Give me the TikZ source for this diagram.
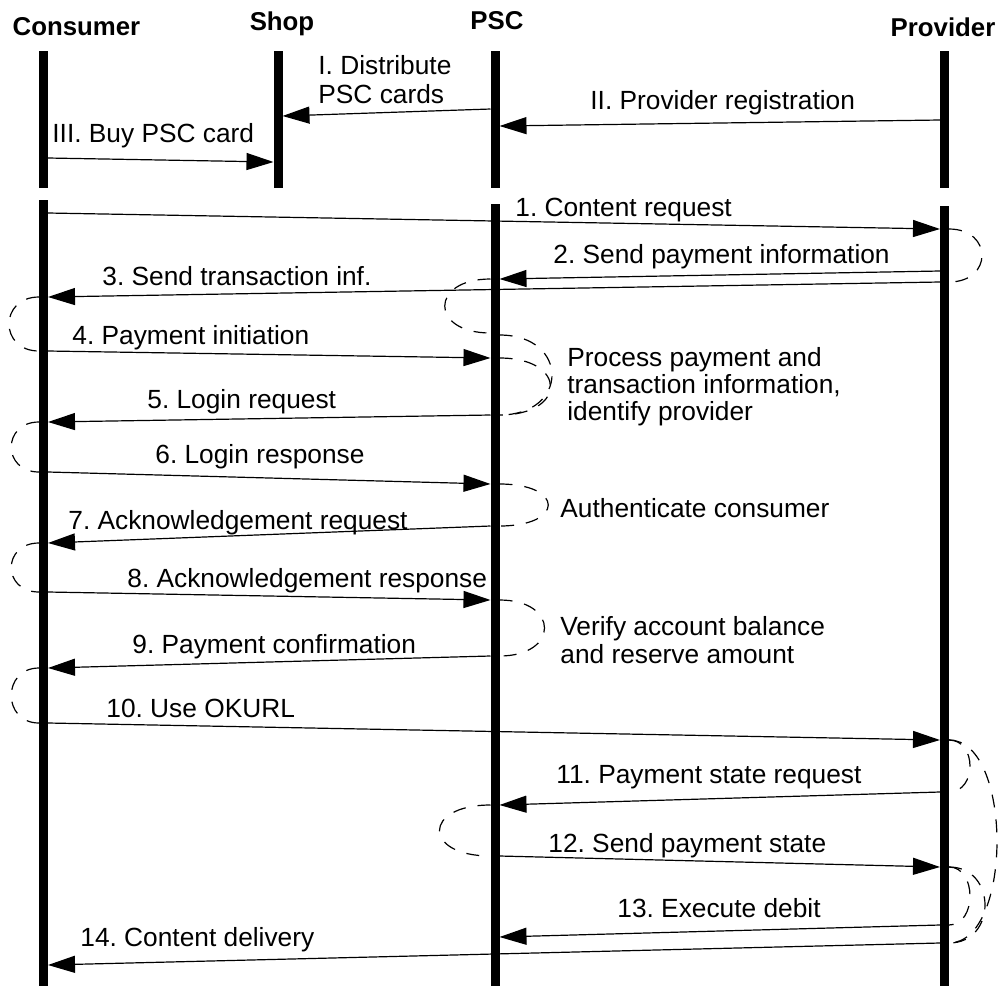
\documentclass[tikz,border=0pt]{standalone}
\usepackage{fontspec}
\setmainfont{Liberation Sans}
\usetikzlibrary{arrows.meta}
\frenchspacing

\begin{document}
\begin{tikzpicture}[x=0.5pt, y=-0.5pt]
			\tikzset{vie/.style={line width=4.5pt}, fleche/.style={-{Triangle[length=13.5pt, width=8.5pt]}, line width=0.6pt}, activite/.style={dash pattern=on 6.5pt off 6pt, line width=0.6pt}, titre/.style={font=\fontsize{12.9}{15}\selectfont\bfseries, inner sep=0pt, anchor=base}, texte/.style={font=\fontsize{13.15}{16}\selectfont, inner sep=0pt, anchor=base west}};

			\useasboundingbox (0,0) rectangle (998,987);

			\node[titre] (consumer) at (  76.5,  35) {Consumer};
			\node[titre] (shop)     at ( 282,    30) {Shop};
			\node[titre] (psc)      at ( 497,    29) {PSC};
			\node[titre] (provider) at ( 943,    36) {Provider};

			% lignes de vie
			\draw[vie] ( 43.5,  51) -- ( 43.5, 188);
			\draw[vie] (278,    51) -- (278,   188);
			\draw[vie] (495,    51) -- (495,   188);
			\draw[vie] (944.5,  51) -- (944.5, 188);
			\draw[vie] ( 43.5, 200) -- ( 43.5, 986);
			\draw[vie] (495,   204) -- (495,   986);
			\draw[vie] (944.5, 206) -- (944.5, 986);

			\coordinate (p0a)  at (490.5, 109);  \coordinate (s0a)  at (282.5, 116);
			\coordinate (pr0)  at (940,   120);  \coordinate (p0b)  at (499.5, 126);
			\coordinate (c0)   at ( 48,   158);  \coordinate (s0b)  at (273.5, 162);
			\coordinate (c1)   at ( 48,   213);  \coordinate (pr1)  at (940,   229);
			\coordinate (pr2)  at (940,   271);  \coordinate (p2)   at (499.5, 279);
			\coordinate (pr3)  at (940,   282);  \coordinate (c3)   at ( 48,   297);
			\coordinate (c4)   at ( 48,   351);  \coordinate (p4)   at (490.5, 358);
			\coordinate (p5)   at (490.5, 415);  \coordinate (c5)   at ( 48,   422);
			\coordinate (c6)   at ( 48,   472);  \coordinate (p6)   at (490.5, 484);
			\coordinate (p7)   at (490.5, 526);  \coordinate (c7)   at ( 48,   543);
			\coordinate (c8)   at ( 48,   592);  \coordinate (p8)   at (490.5, 600);
			\coordinate (p9)   at (490.5, 656);  \coordinate (c9)   at ( 48,   668);
			\coordinate (c10)  at ( 48,   723);  \coordinate (pr10) at (940,   740);
			\coordinate (pr11) at (940,   792);  \coordinate (p11)  at (499.5, 805);
			\coordinate (p12)  at (499.5, 856);  \coordinate (pr12) at (940,   867);
			\coordinate (pr13) at (940,   925);  \coordinate (p13)  at (499.5, 937);
			\coordinate (pr14) at (940,   943);  \coordinate (c14)  at ( 48,   965);
			\coordinate (q1)   at (490.5, 333);  \coordinate (q2)   at (499.5, 335);

			\draw[fleche] (p0a)  -- (s0a);
			\draw[fleche] (pr0)  -- (p0b);
			\draw[fleche] (c0)   -- (s0b);
			\draw[fleche] (c1)   -- (pr1);
			\draw[fleche] (pr2)  -- (p2);
			\draw[fleche] (pr3)  -- (c3);
			\draw[fleche] (c4)   -- (p4);
			\draw[fleche] (p5)   -- (c5);
			\draw[fleche] (c6)   -- (p6);
			\draw[fleche] (p7)   -- (c7);
			\draw[fleche] (c8)   -- (p8);
			\draw[fleche] (p9)   -- (c9);
			\draw[fleche] (c10)  -- (pr10);
			\draw[fleche] (pr11) -- (p11);
			\draw[fleche] (p12)  -- (pr12);
			\draw[fleche] (pr13) -- (p13);
			\draw[fleche] (pr14) -- (c14);

			% traitements (arcs pointilles)
			\draw[activite] ([xshift=4.5pt]pr1) .. controls +(44,0) and +(44,0) .. ([xshift=4.5pt]pr3);
			\draw[activite] ([xshift=-4.5pt]p2) .. controls +(-61,0) and +(-61,0) .. (q1);
			\draw[activite] (q2) .. controls +(70,0) and +(70,0) .. ([xshift=4.5pt]p5);
			\draw[activite] ([xshift=4.5pt]p4) .. controls +(68,0) and +(68,0) .. ([xshift=4.5pt]p5);
			\draw[activite] ([xshift=-4.5pt]c3) .. controls +(-40,0) and +(-40,0) .. ([xshift=-4.5pt]c4);
			\draw[activite] ([xshift=-4.5pt]c5) .. controls +(-37,0) and +(-37,0) .. ([xshift=-4.5pt]c6);
			\draw[activite] ([xshift=4.5pt]p6) .. controls +(65,0) and +(65,0) .. ([xshift=4.5pt]p7);
			\draw[activite] ([xshift=-4.5pt]c7) .. controls +(-37,0) and +(-37,0) .. ([xshift=-4.5pt]c8);
			\draw[activite] ([xshift=4.5pt]p8) .. controls +(60,0) and +(60,0) .. ([xshift=4.5pt]p9);
			\draw[activite] ([xshift=-4.5pt]c9) .. controls +(-37,0) and +(-37,0) .. ([xshift=-4.5pt]c10);
			\draw[activite] ([xshift=4.5pt]pr10) .. controls +(28,0) and +(28,0) .. ([xshift=4.5pt]pr11);
			\draw[activite] ([xshift=4.5pt]pr10) .. controls +(64,0) and +(64,0) .. ([xshift=4.5pt]pr14);
			\draw[activite] ([xshift=-4.5pt]p11) .. controls +(-68,0) and +(-68,0) .. ([xshift=-4.5pt]p12);
			\draw[activite] ([xshift=4.5pt]pr12) .. controls +(28,0) and +(28,0) .. ([xshift=4.5pt]pr13);
			\draw[activite] ([xshift=4.5pt]pr12) .. controls +(48,0) and +(48,0) .. ([xshift=4.5pt]pr14);

			\node[texte] (t0a) at (318,  74) {I. Distribute};
			\node[texte] (t0b) at (318, 103) {PSC cards};
			\node[texte] (t0c) at (590, 109) {II. Provider registration};
			\node[texte] (t0d) at ( 52, 142) {III. Buy PSC card};
			\node[texte] (t1)  at (515, 216) {1. Content request};
			\node[texte] (t2)  at (553, 263) {2. Send payment information};
			\node[texte] (t3)  at (102, 285) {3. Send transaction inf.};
			\node[texte] (t4)  at ( 72, 344) {4. Payment initiation};
			\node[texte] (t5)  at (147, 408) {5. Login request};
			\node[texte] (t6)  at (155, 463) {6. Login response};
			\node[texte] (t7)  at ( 68, 529) {7. Acknowledgement request};
			\node[texte] (t8)  at (127, 587) {8. Acknowledgement response};
			\node[texte] (t9)  at (132, 653) {9. Payment confirmation};
			\node[texte] (t10) at (106, 717) {10. Use OKURL};
			\node[texte] (t11) at (556, 783) {11. Payment state request};
			\node[texte] (t12) at (548, 852) {12. Send payment state};
			\node[texte] (t13) at (617, 917) {13. Execute debit};
			\node[texte] (t14) at ( 80, 946) {14. Content delivery};

			\node[texte] (n1a) at (567, 366) {Process payment and};
			\node[texte] (n1b) at (567, 393) {transaction information,};
			\node[texte] (n1c) at (567, 420) {identify provider};
			\node[texte] (n2)  at (560, 517) {Authenticate consumer};
			\node[texte] (n3a) at (560, 635) {Verify account balance};
			\node[texte] (n3b) at (560, 663) {and reserve amount};
		\end{tikzpicture}
\end{document}
